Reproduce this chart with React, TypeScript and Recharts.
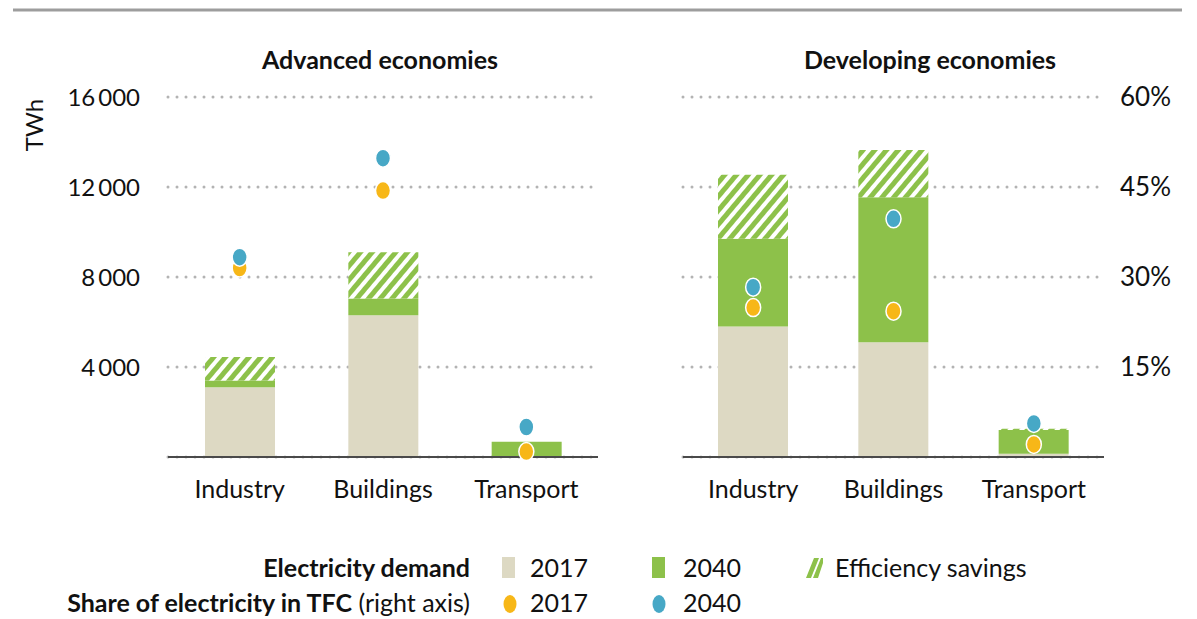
import React from 'react';
import { ComposedChart, Bar, Line, XAxis, YAxis, CartesianGrid } from 'recharts';

const categories = ['Industry', 'Buildings', 'Transport'];
const advDemand2017 = [3100, 6300, 40];
const advDemand2040 = [3400, 7050, 680];
const advEfficiency = [1050, 2050, 0];
const advShare2017 = [31.5, 44.4, 0.9];
const advShare2040 = [33.3, 49.8, 5.0];
const devDemand2017 = [5800, 5100, 150];
const devDemand2040 = [9700, 11550, 1200];
const devEfficiency = [2850, 2100, 60];
const devShare2017 = [24.9, 24.3, 2.1];
const devShare2040 = [28.3, 39.7, 5.6];
const twhTicks = [4000, 8000, 12000, 16000];
const pctTicks = [15, 30, 45, 60];

const C_BEIGE = '#ddd9c3';
const C_GREEN = '#8dc14a';
const C_ORANGE = '#f7b718';
const C_BLUE = '#47a8c6';
const FONT = 'Lato, "Open Sans", sans-serif';

function buildRows(d17: number[], d40: number[], eff: number[], s17: number[], s40: number[]) {
  return categories.map((name, i) => ({
    name,
    d2017: d17[i],
    growth: d40[i] - d17[i],
    eff: eff[i],
    s2017: s17[i],
    s2040: s40[i],
  }));
}

const advRows = buildRows(advDemand2017, advDemand2040, advEfficiency, advShare2017, advShare2040);
const devRows = buildRows(devDemand2017, devDemand2040, devEfficiency, devShare2017, devShare2040);

const fmtTwh = (v: number) => {
  const s = String(v);
  return s.length > 3 ? s.slice(0, s.length - 3) + '\u2009' + s.slice(-3) : s;
};

const EllipseDot = (color: string) => (props: any) => {
  const { cx, cy, index } = props;
  if (cx == null || cy == null) return <g key={index} />;
  return <ellipse key={index} cx={cx} cy={cy} rx={7.5} ry={9} fill={color} stroke="#fff" strokeWidth={1.5} />;
};

const tickStyle = { fontFamily: FONT, fontSize: 24, fill: '#111' };
const catStyle = { fontFamily: FONT, fontSize: 25, fill: '#111' };

function Panel({ rows, side }: { rows: any[]; side: 'left' | 'right' }) {
  const isLeft = side === 'left';
  return (
    <ComposedChart
      width={isLeft ? 600 : 537}
      height={430}
      data={rows}
      margin={isLeft ? { top: 17, right: 22, left: 0, bottom: 0 } : { top: 17, right: 0, left: 23, bottom: 0 }}
    >
      <CartesianGrid
        vertical={false}
        yAxisId={isLeft ? 'twh' : 'pct'}
        stroke="#b3b3b3"
        strokeWidth={3}
        strokeDasharray="0 9"
        strokeLinecap="round"
      />
      <XAxis
        dataKey="name"
        height={53}
        tickLine={false}
        axisLine={{ stroke: '#4a4a4a', strokeWidth: 2 }}
        tick={catStyle}
        tickMargin={17}
        interval={0}
      />
      <YAxis
        yAxisId="twh"
        domain={[0, 16000]}
        ticks={twhTicks}
        hide={!isLeft}
        width={148}
        axisLine={false}
        tickLine={false}
        tickSize={0}
        tickMargin={28}
        tickFormatter={fmtTwh}
        tick={tickStyle}
      />
      <YAxis
        yAxisId="pct"
        orientation="right"
        domain={[0, 60]}
        ticks={pctTicks}
        hide={isLeft}
        width={93}
        axisLine={false}
        tickLine={false}
        tickSize={0}
        tickMargin={16}
        tickFormatter={(v: number) => `${v}%`}
        tick={{ ...tickStyle, fontSize: 26 }}
      />
      <Bar yAxisId="twh" dataKey="d2017" stackId="s" fill={C_BEIGE} barSize={70} isAnimationActive={false} />
      <Bar yAxisId="twh" dataKey="growth" stackId="s" fill={C_GREEN} barSize={70} isAnimationActive={false} />
      <Bar yAxisId="twh" dataKey="eff" stackId="s" fill="url(#hatchGreen)" barSize={70} isAnimationActive={false} />
      <Line
        yAxisId="pct"
        dataKey="s2017"
        stroke="none"
        dot={EllipseDot(C_ORANGE)}
        activeDot={false}
        isAnimationActive={false}
      />
      <Line
        yAxisId="pct"
        dataKey="s2040"
        stroke="none"
        dot={EllipseDot(C_BLUE)}
        activeDot={false}
        isAnimationActive={false}
      />
    </ComposedChart>
  );
}

export default function App() {
  const textBase = { fontFamily: FONT, fill: '#111' } as const;
  return (
    <div style={{ position: 'absolute', left: 0, top: 0, width: 1197, height: 619, background: '#fff', overflow: 'hidden' }}>
      <svg width={0} height={0} style={{ position: 'absolute' }}>
        <defs>
          <pattern id="hatchGreen" patternUnits="userSpaceOnUse" width={9} height={9} patternTransform="rotate(40)">
            <rect width={9} height={9} fill="#fff" />
            <rect width={5} height={9} fill={C_GREEN} />
          </pattern>
        </defs>
      </svg>
      <svg width={1197} height={619} style={{ position: 'absolute', left: 0, top: 0 }}>
        <line x1={13} y1={10} x2={1182} y2={10} stroke="#9d9d9d" strokeWidth={3} />
        <text x={380} y={69} textAnchor="middle" fontSize={25} fontWeight={700} {...textBase}>Advanced economies</text>
        <text x={930} y={69} textAnchor="middle" fontSize={25} fontWeight={700} {...textBase}>Developing economies</text>
        <text x={0} y={0} transform="translate(43,125) rotate(-90)" textAnchor="middle" fontSize={24} {...textBase}>TWh</text>

        <text x={470} y={577} textAnchor="end" fontSize={25} fontWeight={700} {...textBase}>Electricity demand</text>
        <rect x={502} y={557} width={13} height={21} fill={C_BEIGE} />
        <text x={530} y={577} fontSize={25} {...textBase}>2017</text>
        <rect x={652} y={557} width={13} height={21} fill={C_GREEN} />
        <text x={683} y={577} fontSize={25} {...textBase}>2040</text>
        <g>
          <polygon points="806,578 814,558 819,558 811,578" fill={C_GREEN} />
          <polygon points="813,578 821,558 823,558 823,563 818,578" fill={C_GREEN} />
        </g>
        <text x={835} y={577} fontSize={25} {...textBase}>Efficiency savings</text>

        <text x={470} y={612} textAnchor="end" fontSize={25} {...textBase}>
          <tspan fontWeight={700}>Share of electricity in TFC</tspan>
          <tspan> (right axis)</tspan>
        </text>
        <ellipse cx={510} cy={604} rx={6.5} ry={9} fill={C_ORANGE} />
        <text x={530} y={612} fontSize={25} {...textBase}>2017</text>
        <ellipse cx={659} cy={604} rx={6.5} ry={9} fill={C_BLUE} />
        <text x={683} y={612} fontSize={25} {...textBase}>2040</text>
      </svg>
      <div style={{ position: 'absolute', left: 20, top: 80 }}>
        <Panel rows={advRows} side="left" />
      </div>
      <div style={{ position: 'absolute', left: 660, top: 80 }}>
        <Panel rows={devRows} side="right" />
      </div>
    </div>
  );
}
